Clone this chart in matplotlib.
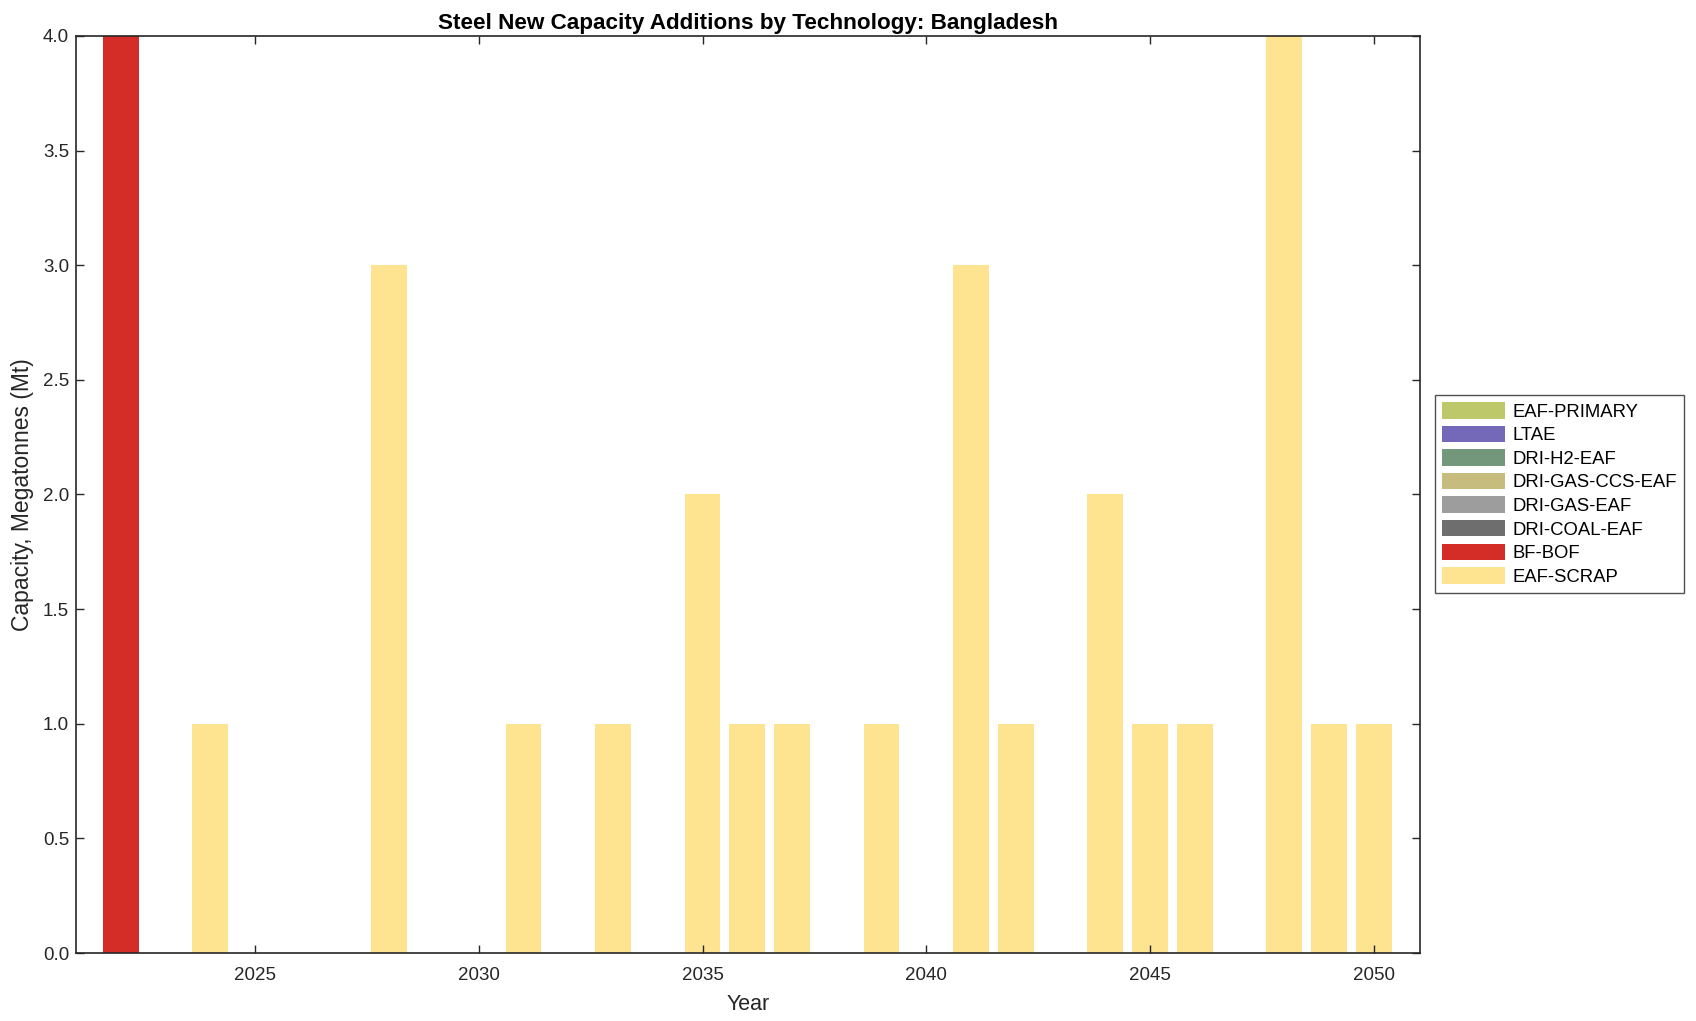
import matplotlib
matplotlib.use("Agg")
import matplotlib.pyplot as plt
import numpy as np

plt.rcParams['font.family'] = ['Liberation Sans', 'DejaVu Sans']

years = list(range(2022, 2051))
techs = ["EAF-SCRAP", "BF-BOF", "DRI-COAL-EAF", "DRI-GAS-EAF",
         "DRI-GAS-CCS-EAF", "DRI-H2-EAF", "LTAE", "EAF-PRIMARY"]
colors = ["#FEE391", "#D42C26", "#6E6E6E", "#9D9D9D",
          "#C5BC7D", "#73977B", "#7468B8", "#BDC86A"]

eaf_scrap_years = [2024, 2028, 2031, 2033, 2035, 2036, 2037, 2039, 2041,
                   2042, 2044, 2045, 2046, 2048, 2049, 2050]
eaf_scrap_vals = [1, 3, 1, 1, 2, 1, 1, 1, 3, 1, 2, 1, 1, 4, 1, 1]
bf_bof_years = [2022]
bf_bof_vals = [4]

data = {t: np.zeros(len(years)) for t in techs}
for y, v in zip(eaf_scrap_years, eaf_scrap_vals):
    data["EAF-SCRAP"][years.index(y)] = v
for y, v in zip(bf_bof_years, bf_bof_vals):
    data["BF-BOF"][years.index(y)] = v

W, H = 1696, 1021
fig = plt.figure(figsize=(W / 100, H / 100), dpi=100)
ax = fig.add_axes([76 / W, 1 - 953 / H, (1420 - 76) / W, (953 - 36) / H])

bottom = np.zeros(len(years))
handles = []
for t, c in zip(techs, colors):
    h = ax.bar(years, data[t], width=0.8, bottom=bottom, color=c, label=t,
               linewidth=0)
    handles.append(h)
    bottom += data[t]

ax.set_xlim(2021, 2051.03)
ax.set_ylim(0, 4)
ax.set_xticks([2025, 2030, 2035, 2040, 2045, 2050])
ax.set_yticks(np.arange(0, 4.01, 0.5))
ax.set_yticklabels([f"{v:.1f}" for v in np.arange(0, 4.01, 0.5)])
ax.tick_params(direction='in', length=6, labelsize=13.5, colors='#262626',
               top=True, right=True, width=1)
ax.tick_params(axis='x', pad=10)
ax.tick_params(axis='y', pad=5)
for s in ax.spines.values():
    s.set_color('#262626')
    s.set_linewidth(1.2)
ax.set_xlabel("Year", fontsize=15.5, color='#262626', labelpad=7)
ax.set_ylabel("Capacity, Megatonnes (Mt)", fontsize=16.5, color='#262626', labelpad=6)
ax.set_title("Steel New Capacity Additions by Technology: Bangladesh",
             fontsize=16.2, fontweight='bold', pad=5)

leg = fig.legend(handles[::-1], techs[::-1], loc='upper left',
                 bbox_to_anchor=(1435 / W, 1 - 395 / H), fontsize=13.3,
                 frameon=True, fancybox=False, edgecolor='#262626',
                 handlelength=3.4, handleheight=1.0, borderpad=0.38,
                 labelspacing=0.27, handletextpad=0.4, borderaxespad=0)
leg.get_frame().set_linewidth(1.0)

fig.savefig("out.png", dpi=100)
